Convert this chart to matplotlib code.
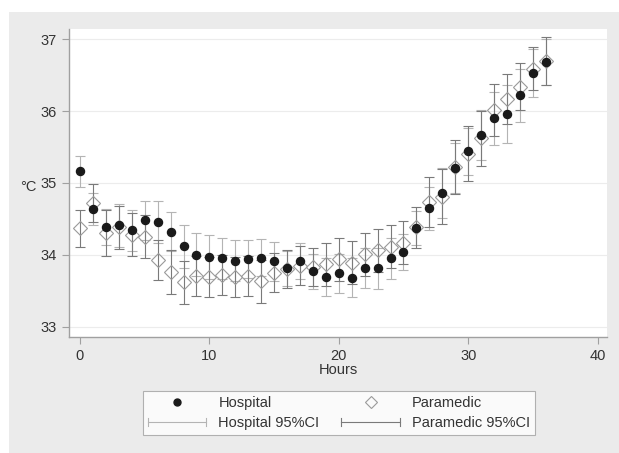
import numpy as np
import matplotlib
matplotlib.use("Agg")
from matplotlib import pyplot as plt
from matplotlib.legend_handler import HandlerBase
from matplotlib.lines import Line2D
from matplotlib.patches import Rectangle

plt.rcParams['font.family'] = ['Liberation Sans', 'DejaVu Sans']

hours = list(range(37))

hospital = [35.16, 34.64, 34.39, 34.41, 34.34, 34.48, 34.46, 34.32, 34.12, 34.00,
            33.97, 33.95, 33.92, 33.94, 33.96, 33.91, 33.81, 33.92, 33.77, 33.69,
            33.74, 33.68, 33.82, 33.81, 33.95, 34.04, 34.37, 34.65, 34.86, 35.21,
            35.44, 35.67, 35.90, 35.96, 36.22, 36.53, 36.69]
hospital_lo = [34.95, 34.42, 34.14, 34.11, 34.05, 34.21, 34.17, 34.05, 33.82, 33.70,
               33.67, 33.67, 33.64, 33.68, 33.70, 33.64, 33.57, 33.67, 33.53, 33.42,
               33.47, 33.41, 33.54, 33.53, 33.67, 33.79, 34.13, 34.35, 34.51, 34.86,
               35.11, 35.32, 35.53, 35.56, 35.85, 36.20, 36.37]
hospital_hi = [35.37, 34.86, 34.64, 34.71, 34.63, 34.75, 34.75, 34.59, 34.42, 34.30,
               34.27, 34.23, 34.20, 34.20, 34.22, 34.18, 34.05, 34.17, 34.01, 33.96,
               34.01, 33.95, 34.10, 34.09, 34.23, 34.29, 34.61, 34.95, 35.21, 35.56,
               35.77, 36.02, 36.27, 36.36, 36.59, 36.86, 37.01]

paramedic = [34.37, 34.72, 34.30, 34.38, 34.28, 34.25, 33.93, 33.76, 33.62, 33.71,
             33.69, 33.72, 33.69, 33.71, 33.63, 33.75, 33.80, 33.85, 33.83, 33.87,
             33.94, 33.89, 34.01, 34.06, 34.11, 34.17, 34.38, 34.73, 34.81, 35.22,
             35.41, 35.62, 36.02, 36.17, 36.34, 36.59, 36.70]
paramedic_lo = [34.11, 34.45, 33.98, 34.08, 33.98, 33.95, 33.65, 33.46, 33.32, 33.43,
                33.41, 33.44, 33.41, 33.43, 33.33, 33.48, 33.54, 33.58, 33.56, 33.57,
                33.64, 33.59, 33.71, 33.76, 33.81, 33.87, 34.10, 34.38, 34.43, 34.84,
                35.03, 35.24, 35.66, 35.82, 36.01, 36.29, 36.37]
paramedic_hi = [34.63, 34.99, 34.62, 34.68, 34.58, 34.55, 34.21, 34.06, 33.92, 33.99,
                33.97, 34.00, 33.97, 33.99, 33.93, 34.02, 34.06, 34.12, 34.10, 34.17,
                34.24, 34.19, 34.31, 34.36, 34.41, 34.47, 34.66, 35.08, 35.19, 35.60,
                35.79, 36.00, 36.38, 36.52, 36.67, 36.89, 37.03]

HOSP_CI = '#b4b4b4'
PARA_CI = '#7a7a7a'
TEXT = '#333333'


class HandlerCI(HandlerBase):
    # horizontal line with small end caps, like the CI key in the original
    def create_artists(self, legend, orig_handle, xdescent, ydescent,
                       width, height, fontsize, trans):
        y = height / 2 - ydescent
        x0, x1 = -xdescent, width - xdescent
        c = orig_handle.get_color()
        lw = orig_handle.get_linewidth()
        arts = [Line2D([x0, x1], [y, y], color=c, lw=lw, transform=trans),
                Line2D([x0, x0], [y - 3, y + 3], color=c, lw=lw, transform=trans),
                Line2D([x1, x1], [y - 3, y + 3], color=c, lw=lw, transform=trans)]
        return arts


fig = plt.figure(figsize=(6.19, 4.53), dpi=100)
fig.patch.set_facecolor('white')
fig.patches.append(Rectangle((9 / 619, 0), 1, 1 - 12 / 453, transform=fig.transFigure,
                             facecolor='#ebebeb', edgecolor='none', zorder=-10))

ax = fig.add_axes([69 / 619, 1 - 336.7 / 453, (607 - 69) / 619, (336.7 - 29) / 453])
ax.set_facecolor('white')

hosp = np.array(hospital)
para = np.array(paramedic)
ax.errorbar(hours, hospital, yerr=[hosp - np.array(hospital_lo), np.array(hospital_hi) - hosp],
            fmt='none', ecolor=HOSP_CI, elinewidth=0.8, capsize=3.5, capthick=0.8, zorder=2)
ax.errorbar(hours, paramedic, yerr=[para - np.array(paramedic_lo), np.array(paramedic_hi) - para],
            fmt='none', ecolor=PARA_CI, elinewidth=0.8, capsize=3.5, capthick=0.8, zorder=2)
ax.plot(hours, paramedic, linestyle='none', marker='D', markersize=6.8,
        markerfacecolor='none', markeredgecolor='#9a9a9a', markeredgewidth=0.8, zorder=3)
ax.plot(hours, hospital, linestyle='none', marker='o', markersize=5.8,
        color='#1a1a1a', zorder=4)

ax.set_xlim(-0.85, 40.73)
ax.set_ylim(32.86, 37.143)
ax.set_xticks([0, 10, 20, 30, 40])
ax.set_yticks([33, 34, 35, 36, 37])
ax.yaxis.grid(True, color='#ececec', linewidth=0.8)
ax.set_axisbelow(True)
for s in ['top', 'right']:
    ax.spines[s].set_visible(False)
for s in ['left', 'bottom']:
    ax.spines[s].set_color('#a0a0a0')
    ax.spines[s].set_linewidth(1.0)
ax.tick_params(colors='#a0a0a0', labelcolor=TEXT, labelsize=10.5, length=5, width=0.8)
ax.set_xlabel('Hours', fontsize=10.5, color=TEXT, labelpad=0)
fig.text(28 / 619, 1 - 187 / 453, '°C', fontsize=10.5, color=TEXT, ha='center', va='center')

h_dot = Line2D([], [], linestyle='none', marker='o', markersize=5, color='#1a1a1a')
p_dia = Line2D([], [], linestyle='none', marker='D', markersize=6,
               markerfacecolor='none', markeredgecolor='#9a9a9a', markeredgewidth=0.8)
h_ci = Line2D([], [], color=HOSP_CI, lw=0.8)
p_ci = Line2D([], [], color=PARA_CI, lw=0.8)
leg = fig.legend([h_dot, h_ci, p_dia, p_ci],
                 ['Hospital', 'Hospital 95%CI', 'Paramedic', 'Paramedic 95%CI'],
                 ncol=2, loc='center', bbox_to_anchor=(339 / 619, 1 - 413 / 453),
                 handler_map={h_ci: HandlerCI(), p_ci: HandlerCI()},
                 fontsize=10.5, frameon=True, fancybox=False, handlelength=4.0,
                 columnspacing=1.5, handletextpad=0.85, labelspacing=0.4,
                 borderpad=0.35, borderaxespad=0)
leg.get_frame().set_edgecolor('#a0a0a0')
leg.get_frame().set_linewidth(0.8)
for t in leg.get_texts():
    t.set_color(TEXT)

fig.savefig('out.png', dpi=100)
